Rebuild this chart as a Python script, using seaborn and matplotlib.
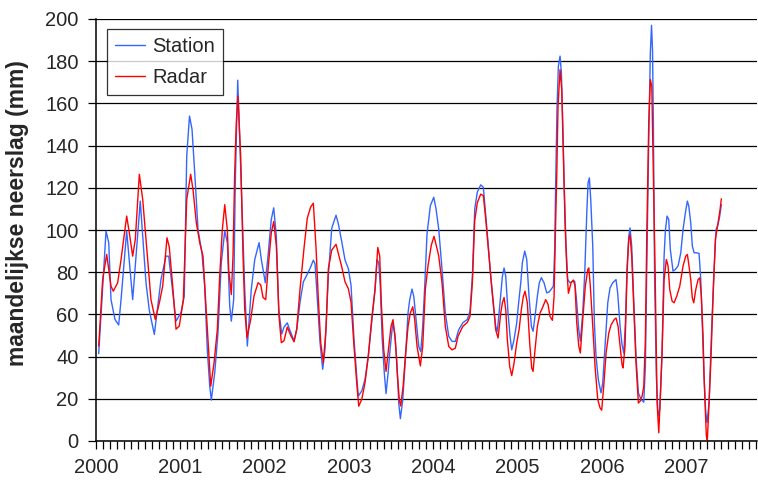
import numpy as np
import pandas as pd
import matplotlib
matplotlib.use("Agg")
import matplotlib.pyplot as plt
from matplotlib.ticker import MultipleLocator, FixedLocator
import seaborn as sns

# ---- data (decimal years, monthly precipitation in mm) ----
station_t = [2000.032, 2000.119, 2000.151, 2000.178, 2000.225, 2000.269, 2000.297, 2000.364, 2000.435,
             2000.525, 2000.593, 2000.632, 2000.692, 2000.771, 2000.830, 2000.862, 2000.949, 2001.008,
             2001.047, 2001.076, 2001.109, 2001.139, 2001.171, 2001.210, 2001.257, 2001.289, 2001.320,
             2001.349, 2001.368, 2001.408, 2001.447, 2001.486, 2001.527, 2001.558, 2001.586, 2001.605,
             2001.633, 2001.652, 2001.681, 2001.724, 2001.764, 2001.795, 2001.842, 2001.883, 2001.934,
             2001.961, 2002.008, 2002.040, 2002.079, 2002.108, 2002.139, 2002.167, 2002.203, 2002.230,
             2002.269, 2002.301, 2002.349, 2002.381, 2002.420, 2002.459, 2002.499, 2002.538, 2002.578,
             2002.598, 2002.625, 2002.657, 2002.689, 2002.716, 2002.756, 2002.796, 2002.847, 2002.874,
             2002.915, 2002.954, 2002.993, 2003.025, 2003.060, 2003.092, 2003.111, 2003.152, 2003.191,
             2003.230, 2003.270, 2003.310, 2003.333, 2003.353, 2003.372, 2003.393, 2003.420, 2003.440,
             2003.464, 2003.491, 2003.520, 2003.543, 2003.567, 2003.591, 2003.610, 2003.638, 2003.669,
             2003.701, 2003.721, 2003.748, 2003.769, 2003.796, 2003.828, 2003.852, 2003.875, 2003.899,
             2003.926, 2003.966, 2004.006, 2004.033, 2004.065, 2004.104, 2004.143, 2004.184, 2004.223,
             2004.262, 2004.302, 2004.350, 2004.404, 2004.436, 2004.464, 2004.492, 2004.523, 2004.563,
             2004.594, 2004.623, 2004.650, 2004.682, 2004.713, 2004.741, 2004.760, 2004.792, 2004.820,
             2004.840, 2004.860, 2004.887, 2004.911, 2004.931, 2004.958, 2004.990, 2005.009, 2005.038,
             2005.057, 2005.085, 2005.109, 2005.136, 2005.164, 2005.184, 2005.207, 2005.235, 2005.258,
             2005.282, 2005.314, 2005.346, 2005.374, 2005.401, 2005.425, 2005.441, 2005.451, 2005.468,
             2005.484, 2005.504, 2005.520, 2005.536, 2005.555, 2005.575, 2005.595, 2005.623, 2005.655,
             2005.678, 2005.702, 2005.726, 2005.745, 2005.773, 2005.797, 2005.821, 2005.836, 2005.852,
             2005.868, 2005.892, 2005.911, 2005.931, 2005.958, 2005.990, 2006.010, 2006.038, 2006.070,
             2006.097, 2006.129, 2006.168, 2006.188, 2006.216, 2006.239, 2006.260, 2006.279, 2006.299,
             2006.319, 2006.334, 2006.354, 2006.378, 2006.405, 2006.433, 2006.465, 2006.497, 2006.516,
             2006.532, 2006.556, 2006.575, 2006.589, 2006.601, 2006.611, 2006.625, 2006.646, 2006.667,
             2006.687, 2006.714, 2006.738, 2006.753, 2006.773, 2006.793, 2006.812, 2006.844, 2006.872,
             2006.904, 2006.936, 2006.963, 2006.990, 2007.014, 2007.031, 2007.054, 2007.073, 2007.094,
             2007.121, 2007.153, 2007.173, 2007.192, 2007.212, 2007.232, 2007.248, 2007.271, 2007.299,
             2007.327, 2007.355, 2007.378, 2007.398, 2007.417]
station_v = [41.4, 99.5, 94, 67, 57.6, 55, 67, 99.5, 67,
             113.7, 75, 62, 50.5, 76.6, 87.6, 87.6, 56.8, 60.8,
             68.7, 135, 154, 147.7, 127, 100.3, 89, 73.4, 43.4,
             26, 19.4, 32.3, 51.3, 84.5, 99.5, 94, 64, 56.8,
             67, 122.4, 171, 119, 72, 45, 72, 86, 94,
             86, 75, 87.6, 105, 110.5, 97, 62.4, 50.7, 54,
             56, 52.3, 47.5, 53, 65.8, 75.4, 78.5, 81.7, 85.7,
             84, 67.4, 46.7, 34, 43.6, 78.5, 100.8, 107, 103,
             94.4, 85.7, 81.7, 73.8, 48.3, 30.8, 21.3, 23.7, 29.2,
             40.4, 56.3, 72, 86, 84.5, 73.4, 49.6, 32, 22.5,
             32, 44.8, 56, 51, 38.4, 17.8, 10.6, 19.4, 38.4,
             60.7, 67, 72, 68.6, 57.5, 44.8, 42.4, 54.3, 73.4,
             98, 111.6, 115.5, 110, 100.4, 81.4, 60.7, 49.6, 47.2,
             47.2, 52.7, 56, 57.6, 61.5, 78, 110, 118, 121.4,
             120.3, 106.8, 94, 78, 64, 54.3, 52, 65.5, 78,
             82, 78, 60.7, 49.6, 43.2, 48, 56, 64, 75,
             84.5, 90, 86, 68.6, 54.3, 52, 59, 68.6, 75,
             77.4, 75, 70.2, 70.6, 72, 73.4, 91, 120, 158,
             177.6, 182.4, 174.5, 150.8, 119, 92.3, 76.5, 75, 75.7,
             75.7, 65.5, 52.8, 47.3, 60.7, 79.7, 108, 122.3, 124.7,
             114.4, 92.3, 56, 40, 29, 22.8, 27.5, 45, 65.5,
             72.6, 75, 76.5, 70, 54.4, 45.7, 41.7, 56, 82.8,
             97, 101, 92.3, 67, 40, 22.8, 19.7, 18.4, 35.4,
             80, 143, 184, 197, 185, 150, 80, 30.7, 11.8,
             15, 41.8, 87.6, 99.5, 106.6, 105, 90.8, 80.5, 81.3,
             83, 89.2, 100.3, 108, 113.7, 111.3, 103.4, 92.4, 89.2,
             89.2, 88.9, 76.5, 54.4, 30.7, 13.4, 8.7, 18, 49.7,
             78, 100.3, 102.6, 106.6, 112]

radar_t = [2000.032, 2000.079, 2000.127, 2000.178, 2000.205, 2000.257, 2000.297, 2000.364, 2000.395,
           2000.435, 2000.466, 2000.514, 2000.554, 2000.613, 2000.652, 2000.703, 2000.751, 2000.791,
           2000.842, 2000.869, 2000.910, 2000.949, 2000.988, 2001.036, 2001.076, 2001.123, 2001.151,
           2001.190, 2001.230, 2001.269, 2001.297, 2001.329, 2001.361, 2001.400, 2001.439, 2001.467,
           2001.498, 2001.527, 2001.558, 2001.574, 2001.605, 2001.625, 2001.645, 2001.664, 2001.684,
           2001.716, 2001.744, 2001.764, 2001.791, 2001.835, 2001.874, 2001.922, 2001.954, 2001.981,
           2002.013, 2002.040, 2002.079, 2002.108, 2002.139, 2002.171, 2002.198, 2002.230, 2002.269,
           2002.310, 2002.349, 2002.381, 2002.420, 2002.467, 2002.506, 2002.547, 2002.578, 2002.610,
           2002.637, 2002.665, 2002.696, 2002.728, 2002.756, 2002.796, 2002.847, 2002.874, 2002.915,
           2002.954, 2002.993, 2003.025, 2003.060, 2003.092, 2003.116, 2003.152, 2003.191, 2003.230,
           2003.270, 2003.310, 2003.342, 2003.365, 2003.384, 2003.413, 2003.440, 2003.472, 2003.499,
           2003.523, 2003.550, 2003.574, 2003.598, 2003.614, 2003.642, 2003.669, 2003.701, 2003.728,
           2003.757, 2003.780, 2003.808, 2003.847, 2003.875, 2003.906, 2003.938, 2003.977, 2004.009,
           2004.037, 2004.065, 2004.104, 2004.143, 2004.184, 2004.223, 2004.262, 2004.294, 2004.350,
           2004.404, 2004.436, 2004.464, 2004.492, 2004.523, 2004.563, 2004.594, 2004.623, 2004.650,
           2004.682, 2004.713, 2004.741, 2004.769, 2004.801, 2004.820, 2004.840, 2004.860, 2004.879,
           2004.907, 2004.931, 2004.958, 2004.990, 2005.018, 2005.045, 2005.069, 2005.089, 2005.116,
           2005.144, 2005.168, 2005.184, 2005.207, 2005.235, 2005.267, 2005.294, 2005.334, 2005.362,
           2005.385, 2005.413, 2005.433, 2005.449, 2005.465, 2005.480, 2005.504, 2005.524, 2005.543,
           2005.563, 2005.583, 2005.603, 2005.635, 2005.662, 2005.682, 2005.702, 2005.726, 2005.745,
           2005.773, 2005.804, 2005.833, 2005.845, 2005.863, 2005.892, 2005.919, 2005.951, 2005.978,
           2005.998, 2006.022, 2006.050, 2006.082, 2006.109, 2006.148, 2006.168, 2006.192, 2006.216,
           2006.239, 2006.251, 2006.275, 2006.299, 2006.319, 2006.334, 2006.354, 2006.378, 2006.405,
           2006.433, 2006.453, 2006.477, 2006.497, 2006.516, 2006.532, 2006.556, 2006.575, 2006.592,
           2006.611, 2006.631, 2006.646, 2006.655, 2006.675, 2006.694, 2006.714, 2006.738, 2006.765,
           2006.785, 2006.805, 2006.833, 2006.856, 2006.888, 2006.924, 2006.963, 2006.995, 2007.014,
           2007.031, 2007.054, 2007.073, 2007.090, 2007.114, 2007.141, 2007.161, 2007.180, 2007.200,
           2007.212, 2007.227, 2007.239, 2007.251, 2007.268, 2007.292, 2007.319, 2007.346, 2007.378,
           2007.402, 2007.417]
radar_v = [45, 76.6, 88.4, 73.4, 71, 75, 86, 106.6, 98.7,
           87.6, 95.5, 126.4, 114.5, 86, 67, 57.6, 65.4, 73.4,
           96.3, 92, 73.4, 53, 54.5, 67, 114.5, 126.4, 119,
           103.4, 94, 87.6, 68.7, 46.6, 26, 37, 52.9, 78,
           100, 112, 100, 81, 69.4, 87.6, 127, 151, 163.5,
           135, 87.6, 62.4, 49, 57.6, 68.7, 75, 74, 68,
           67, 81, 98.7, 104, 92.4, 59, 46.6, 47.5, 54,
           50, 47, 53, 72, 91.3, 105.6, 111, 112.7, 91.3,
           67.4, 46.7, 37.2, 53, 81.7, 90.5, 93.2, 89, 82.5,
           75.4, 72.2, 65.8, 45, 27.7, 16.5, 19.7, 27.7, 40.4,
           57.9, 72, 91.7, 87.7, 65.5, 43.2, 33, 44.8, 54.3,
           57.5, 48, 32, 19.4, 16.6, 25.7, 40, 54.3, 60.7,
           63.6, 57.5, 44.8, 35.6, 44.8, 71.8, 83, 92.8, 97,
           92.5, 87.7, 75, 54.3, 44.8, 43.2, 44, 49.6, 54.3,
           56.2, 59, 75, 104.4, 113, 117, 116.3, 105, 92.5,
           78, 65.5, 52.7, 48.8, 60.7, 65.5, 68, 62.3, 48,
           35.3, 31, 36.8, 46.4, 52.7, 62.3, 68.6, 71, 65.5,
           46.4, 34.5, 33, 43.2, 54.3, 60.7, 63, 67, 64.7,
           59, 57.2, 68.6, 99, 126, 158.7, 176, 166.6, 135,
           103.4, 82.8, 70, 75, 76.3, 73.4, 56, 45, 41.7,
           57.6, 73.4, 81.3, 82, 73.4, 54.4, 35.4, 19.7, 15.7,
           14.6, 26, 41.7, 51.2, 55, 57.6, 58.3, 54.4, 45,
           36.2, 34.6, 45, 79.7, 95.5, 97.8, 87.6, 63.9, 37,
           18, 18.8, 21.2, 26, 48, 95.5, 150.8, 171.3, 168,
           127, 81.3, 40, 18, 3.9, 21.2, 41.8, 76.5, 86,
           83, 71.8, 66.3, 65.5, 68.6, 73.4, 83, 87.6, 88.4,
           83.7, 76.5, 67.8, 65.5, 71.8, 76.5, 77.3, 68.6, 49.7,
           30.7, 15, 2.4, 0.5, 15, 37, 68.6, 95.5, 103.4,
           109.7, 114.8]

years = [2000, 2001, 2002, 2003, 2004, 2005, 2006, 2007]
y_ticks = [0, 20, 40, 60, 80, 100, 120, 140, 160, 180, 200]

df = pd.concat([
    pd.DataFrame({"t": station_t, "v": station_v, "serie": "Station"}),
    pd.DataFrame({"t": radar_t, "v": radar_v, "serie": "Radar"}),
], ignore_index=True)

sns.set_style("white")
plt.rcParams["font.family"] = ["Liberation Sans", "DejaVu Sans"]

fig = plt.figure(figsize=(7.58, 4.83), dpi=100)
ax = fig.add_axes([96 / 758, 42 / 483, 661 / 758, 422 / 483])

sns.lineplot(data=df, x="t", y="v", hue="serie", hue_order=["Station", "Radar"],
             palette={"Station": "#3366FF", "Radar": "#FF0000"},
             estimator=None, sort=False, linewidth=1.0, ax=ax)

ax.set_xlim(2000, 2007.84)
ax.set_ylim(0, 200)
ax.xaxis.set_major_locator(FixedLocator(years))
ax.xaxis.set_minor_locator(MultipleLocator(1 / 12))
ax.set_xticklabels([str(y) for y in years])
ax.yaxis.set_major_locator(FixedLocator(y_ticks))

ax.grid(axis="y", color="black", linewidth=0.9)
ax.set_axisbelow(True)
for s in ["top", "right"]:
    ax.spines[s].set_visible(False)
for s in ["left", "bottom"]:
    ax.spines[s].set_color("black")
    ax.spines[s].set_linewidth(1.1)

ax.tick_params(axis="x", which="both", direction="out", length=5.5, width=0.9,
               color="black", bottom=True, labelsize=14.5, pad=7)
ax.tick_params(axis="y", which="major", direction="out", length=5.5, width=0.9,
               color="black", left=True, labelsize=14.5, pad=7)

ax.set_xlabel("")
ax.set_ylabel("maandelijkse neerslag (mm)", fontsize=16.5, fontweight="bold")
ax.yaxis.set_label_coords(-0.101, 0.54)

leg = ax.legend(loc="upper left", bbox_to_anchor=(0.0166, 0.976), frameon=True, fancybox=False,
                edgecolor="black", fontsize=14.5, handlelength=1.5, borderpad=0.4,
                labelspacing=0.6, handletextpad=0.35, borderaxespad=0)
leg.get_frame().set_linewidth(0.9)
leg.set_title(None)

fig.savefig("out.png", dpi=100)
